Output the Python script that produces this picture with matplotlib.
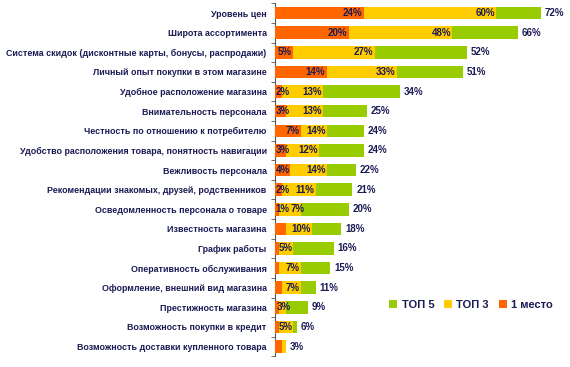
import matplotlib
matplotlib.use("Agg")
import matplotlib.pyplot as plt
import numpy as np
from matplotlib import font_manager

categories = [
    "Уровень цен",
    "Широта ассортимента",
    "Система скидок (дисконтные карты, бонусы, распродажи)",
    "Личный опыт покупки в этом магазине",
    "Удобное расположение магазина",
    "Внимательность персонала",
    "Честность по отношению к потребителю",
    "Удобство расположения товара, понятность навигации",
    "Вежливость персонала",
    "Рекомендации знакомых, друзей, родственников",
    "Осведомленность персонала о товаре",
    "Известность магазина",
    "График работы",
    "Оперативность обслуживания",
    "Оформление, внешний вид магазина",
    "Престижность магазина",
    "Возможность покупки в кредит",
    "Возможность доставки купленного товара",
]
top5 = [72, 66, 52, 51, 34, 25, 24, 24, 22, 21, 20, 18, 16, 15, 11, 9, 6, 3]
top3 = [60, 48, 27, 33, 13, 13, 14, 12, 14, 11, 7, 10, 5, 7, 7, 3, 5, 3]
first = [24, 20, 5, 14, 2, 3, 7, 3, 4, 2, 1, 3, 1, 1, 2, 1, 1, 2]
show_top3 = [True]*17 + [False]
show_first = [True]*11 + [False]*7

names = set(f.name for f in font_manager.fontManager.ttflist)
cond = None
for cand in ["Liberation Sans Narrow", "DejaVu Sans Condensed"]:
    if cand in names:
        cond = cand
        break
fam = ["Liberation Sans", "DejaVu Sans"]
plt.rcParams['font.family'] = fam
label_fam = ([cond] if cond else []) + fam

GREEN = "#99CC00"
YELLOW = "#FFCC00"
ORANGE = "#FF6600"
NAVY = "#1B1B55"

fig = plt.figure(figsize=(5.7, 3.67), dpi=100)
ax = fig.add_axes([0.4825, 0.029, 0.5175, 0.962])

y = np.arange(len(categories))
h = 0.64
ax.barh(y, top5, height=h, color=GREEN, label="ТОП 5", zorder=1)
ax.barh(y, top3, height=h, color=YELLOW, label="ТОП 3", zorder=2)
ax.barh(y, first, height=h, color=ORANGE, label="1 место", zorder=3)

ax.set_xlim(0, 80)
ax.set_ylim(len(categories) - 0.5, -0.5)

fs = 7
pairs = []
for i in range(len(categories)):
    ax.text(top5[i] + 1.0, y[i], f"{top5[i]}%", ha="left", va="center",
            fontsize=fs, fontweight="bold", color=NAVY, zorder=5)
    t3 = t1 = None
    if show_top3[i]:
        t3 = ax.text(max(top3[i] - 0.3, 4.4), y[i], f"{top3[i]}%", ha="right", va="center",
                     fontsize=fs, fontweight="bold", color=NAVY, zorder=5)
    if show_first[i]:
        if first[i] >= 5:
            t1 = ax.text(first[i] - 0.4, y[i], f"{first[i]}%", ha="right", va="center",
                         fontsize=fs, fontweight="bold", color=NAVY, zorder=5)
        else:
            t1 = ax.text(0.2, y[i], f"{first[i]}%", ha="left", va="center",
                         fontsize=fs, fontweight="bold", color=NAVY, zorder=5)
    if t1 is not None and t3 is not None:
        pairs.append((t1, t3))

ax.set_yticks(y)
ax.set_yticklabels(categories, fontsize=7, color=NAVY, fontweight="bold",
                   family=label_fam)
ax.tick_params(axis="y", which="major", length=0, pad=6)
ax.set_yticks(np.arange(-0.5, len(categories), 1), minor=True)
ax.tick_params(axis="y", which="minor", length=3, color="#555555", direction="out")
ax.set_xticks([])
for s in ["top", "right", "bottom"]:
    ax.spines[s].set_visible(False)
ax.spines["left"].set_color("#555555")
ax.spines["left"].set_linewidth(0.8)

fig.canvas.draw()
r = fig.canvas.get_renderer()
# fit the longest category label into the available width (~259 px)
wmax = max(t.get_window_extent(r).width for t in ax.get_yticklabels())
newsize = min(7, 7 * 259.0 / wmax)
for t in ax.get_yticklabels():
    t.set_fontsize(newsize)
# nudge touching in-bar labels apart
inv = ax.transData.inverted()
for t1, t3 in pairs:
    b1 = t1.get_window_extent(r)
    b3 = t3.get_window_extent(r)
    if b3.x0 < b1.x1 + 1:
        shift = b1.x1 + 1 - b3.x0
        x3, y3 = t3.get_position()
        px = ax.transData.transform((x3, y3))[0] + shift
        t3.set_x(inv.transform((px, 0))[0])

leg = ax.legend(loc="center", bbox_to_anchor=(0.665, 0.145), ncol=3, frameon=False,
                handlelength=0.7, handleheight=0.7, handletextpad=0.4,
                columnspacing=0.9, prop={"family": fam, "weight": "bold", "size": 8})
for t in leg.get_texts():
    t.set_color(NAVY)

fig.savefig("out.png", dpi=100)
